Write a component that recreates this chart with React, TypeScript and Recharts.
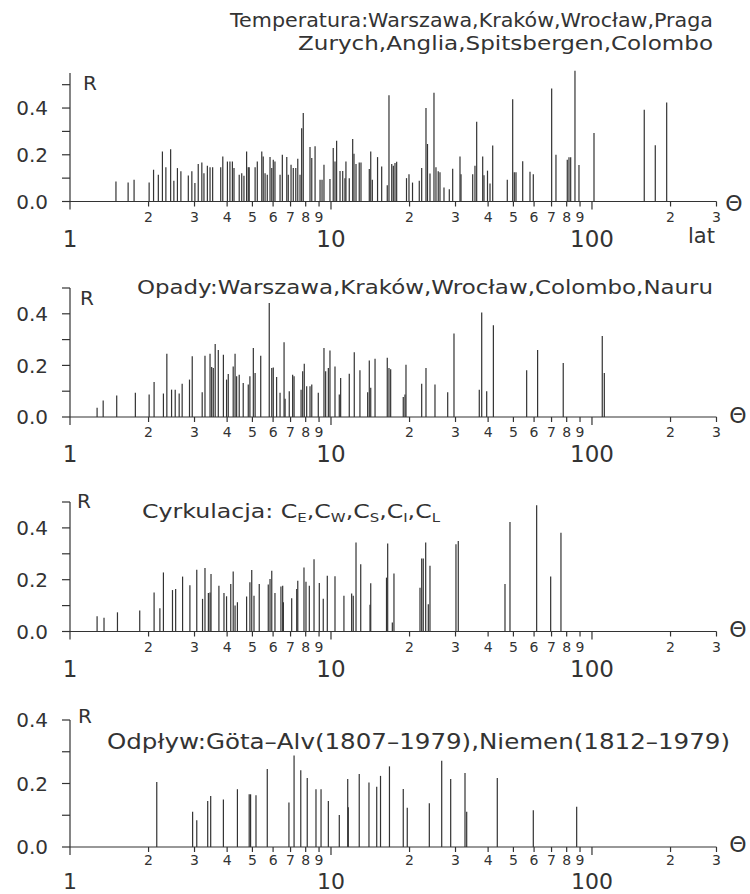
import React from "react";
import { ComposedChart, Scatter, XAxis, YAxis, ReferenceLine } from "recharts";

// [period in years, R]
const tempPeaks: [number, number][] = [
  [1.5, 0.086], [1.67, 0.081], [1.76, 0.093], [2.01, 0.081], [2.09, 0.136], [2.18, 0.114], [2.26, 0.214],
  [2.33, 0.147], [2.43, 0.224], [2.5, 0.089], [2.58, 0.143], [2.66, 0.129], [2.84, 0.111], [2.93, 0.129],
  [3.01, 0.079], [3.1, 0.16], [3.2, 0.167], [3.26, 0.121], [3.36, 0.153], [3.44, 0.147], [3.52, 0.147],
  [3.78, 0.147], [3.85, 0.193], [4.01, 0.171], [4.1, 0.171], [4.19, 0.171], [4.25, 0.143], [4.45, 0.114],
  [4.55, 0.121], [4.64, 0.11], [4.75, 0.214], [4.82, 0.147], [4.86, 0.147], [5.12, 0.147], [5.22, 0.171],
  [5.43, 0.214], [5.5, 0.193], [5.59, 0.121], [5.7, 0.114], [5.84, 0.19], [5.93, 0.143], [6.01, 0.179],
  [6.1, 0.171], [6.38, 0.114], [6.51, 0.2], [6.77, 0.19], [6.86, 0.114], [7.03, 0.157], [7.17, 0.143],
  [7.33, 0.143], [7.46, 0.183], [7.61, 0.114], [7.72, 0.314], [7.83, 0.379], [8.31, 0.233], [8.44, 0.186],
  [8.69, 0.236], [9.08, 0.093], [9.24, 0.093], [9.4, 0.157], [9.91, 0.096], [10.2, 0.229], [10.36, 0.171],
  [10.51, 0.26], [10.83, 0.131], [11.09, 0.131], [11.31, 0.1], [11.41, 0.171], [11.75, 0.1], [12.11, 0.267],
  [12.25, 0.204], [12.47, 0.161], [12.83, 0.167], [13.03, 0.167], [14.02, 0.139], [14.2, 0.214], [14.4, 0.093],
  [15.08, 0.19], [15.64, 0.15], [16.43, 0.07], [16.68, 0.455], [17.09, 0.16], [17.33, 0.153], [17.59, 0.165],
  [17.85, 0.17], [19.47, 0.1], [19.9, 0.117], [20.53, 0.081], [21.79, 0.089], [22.26, 0.143], [23.12, 0.4],
  [23.43, 0.246], [23.95, 0.12], [24.81, 0.465], [25.25, 0.147], [25.76, 0.13], [26.16, 0.125], [27.1, 0.06],
  [28.4, 0.052], [29.26, 0.14], [31.21, 0.193], [31.49, 0.117], [34.91, 0.117], [35.62, 0.153], [36.16, 0.341],
  [38.13, 0.193], [38.57, 0.112], [39.78, 0.132], [40.67, 0.077], [41.65, 0.24], [47.37, 0.093], [49.68, 0.438],
  [50.39, 0.125], [51.15, 0.125], [54.27, 0.172], [57.88, 0.127], [59.59, 0.117], [70.07, 0.484], [72.78, 0.2],
  [80.42, 0.179], [81.64, 0.189], [82.87, 0.189], [86.07, 0.56], [89.16, 0.156], [101.8, 0.293], [158.6, 0.393],
  [174.8, 0.241], [193.3, 0.424],
];

const rainPeaks: [number, number][] = [
  [1.27, 0.036], [1.34, 0.064], [1.51, 0.083], [1.78, 0.094], [2.01, 0.087], [2.1, 0.136], [2.28, 0.091],
  [2.35, 0.245], [2.45, 0.106], [2.53, 0.106], [2.62, 0.091], [2.69, 0.129], [2.87, 0.145], [2.94, 0.235],
  [3.21, 0.096], [3.29, 0.237], [3.44, 0.245], [3.49, 0.194], [3.54, 0.19], [3.6, 0.283], [3.7, 0.26],
  [3.87, 0.241], [3.98, 0.145], [4.04, 0.167], [4.22, 0.196], [4.29, 0.245], [4.35, 0.158], [4.45, 0.164],
  [4.61, 0.132], [4.82, 0.126], [4.89, 0.158], [5.04, 0.267], [5.12, 0.171], [5.38, 0.237], [5.8, 0.442],
  [5.93, 0.19], [6.01, 0.192], [6.19, 0.155], [6.38, 0.094], [6.61, 0.29], [6.67, 0.071], [6.92, 0.1],
  [7.13, 0.164], [7.22, 0.158], [7.68, 0.106], [7.79, 0.177], [7.9, 0.206], [8.07, 0.119], [8.31, 0.119],
  [8.44, 0.126], [8.94, 0.094], [9.4, 0.267], [9.54, 0.177], [9.77, 0.19], [9.91, 0.258], [10.36, 0.196],
  [10.76, 0.087], [10.89, 0.151], [11.75, 0.168], [12.28, 0.251], [12.91, 0.181], [13.82, 0.096], [14.02, 0.219],
  [14.2, 0.113], [14.75, 0.226], [16.43, 0.23], [16.68, 0.19], [16.93, 0.185], [18.92, 0.078], [19.21, 0.087],
  [19.38, 0.203], [22.26, 0.129], [23.12, 0.19], [25.03, 0.126], [28.0, 0.096], [29.6, 0.324], [37.0, 0.106],
  [37.8, 0.405], [39.5, 0.1], [41.9, 0.356], [56.2, 0.181], [61.9, 0.26], [77.6, 0.209], [109.5, 0.314],
  [111.5, 0.171],
];

const circPeaks: [number, number][] = [
  [1.27, 0.059], [1.35, 0.053], [1.52, 0.074], [1.85, 0.081], [2.1, 0.151], [2.21, 0.09], [2.28, 0.228],
  [2.47, 0.16], [2.54, 0.164], [2.7, 0.212], [2.88, 0.179], [3.06, 0.238], [3.22, 0.126], [3.29, 0.245],
  [3.39, 0.149], [3.44, 0.151], [3.47, 0.222], [3.72, 0.177], [3.89, 0.149], [3.98, 0.136], [4.13, 0.183],
  [4.22, 0.232], [4.29, 0.1], [4.38, 0.113], [4.75, 0.135], [4.89, 0.19], [4.97, 0.237], [5.07, 0.138],
  [5.31, 0.183], [5.75, 0.181], [5.84, 0.203], [5.93, 0.235], [6.1, 0.149], [6.43, 0.174], [6.53, 0.177],
  [6.57, 0.113], [7.07, 0.128], [7.39, 0.164], [7.46, 0.196], [7.88, 0.247], [8.02, 0.192], [8.26, 0.177],
  [8.61, 0.279], [9.02, 0.187], [9.34, 0.126], [9.68, 0.215], [10.36, 0.213], [11.21, 0.138], [12.0, 0.147],
  [12.17, 0.138], [12.47, 0.344], [13.0, 0.26], [14.11, 0.103], [14.2, 0.186], [16.32, 0.208], [16.49, 0.34],
  [17.18, 0.035], [17.43, 0.224], [21.93, 0.169], [22.26, 0.282], [22.57, 0.282], [23.06, 0.344], [23.6, 0.105],
  [23.95, 0.254], [30.12, 0.337], [30.74, 0.349], [46.42, 0.183], [48.51, 0.423], [61.38, 0.487], [69.46, 0.212],
  [76.06, 0.381],
];

const flowPeaks: [number, number][] = [
  [2.15, 0.205], [2.95, 0.111], [3.06, 0.084], [3.37, 0.145], [3.46, 0.161], [3.87, 0.15], [4.38, 0.182],
  [4.86, 0.166], [4.92, 0.166], [5.16, 0.163], [5.7, 0.246], [6.9, 0.14], [7.22, 0.288], [7.66, 0.242],
  [8.11, 0.217], [8.76, 0.182], [9.16, 0.182], [9.77, 0.145], [10.76, 0.101], [11.59, 0.214], [11.65, 0.125],
  [12.83, 0.23], [13.98, 0.203], [14.97, 0.19], [15.48, 0.224], [16.75, 0.254], [18.92, 0.183], [19.6, 0.124],
  [23.81, 0.138], [26.56, 0.272], [28.75, 0.214], [32.62, 0.233], [33.11, 0.111], [43.37, 0.217], [59.59, 0.116],
  [87.37, 0.127],
];

const xTicks = [1, 2, 3, 4, 5, 6, 7, 8, 9, 10, 20, 30, 40, 50, 60, 70, 80, 90, 100, 200, 300];
const yTicksFull = [0, 0.1, 0.2, 0.3, 0.4, 0.5];
const yTicksShort = [0, 0.1, 0.2, 0.3, 0.4];

const FONT = "'DejaVu Sans', Verdana, sans-serif";
const INK = "#333";
const PAD_TOP = 16;

function XTick(props: any) {
  const { x, y, payload, majorOffset, minorOffset, majorSize } = props;
  const v = payload.value;
  const exp = Math.floor(Math.log10(v) + 1e-9);
  const digit = Math.round(v / Math.pow(10, exp));
  const major = digit === 1;
  return (
    <g>
      <line x1={x} x2={x} y1={y} y2={y + (major ? 8 : 5)} stroke={INK} strokeWidth={1.2} />
      {major ? (
        <text x={x} y={y + majorOffset} textAnchor="middle" fontSize={majorSize} fill={INK} fontFamily={FONT}>
          {v}
        </text>
      ) : (
        <text x={x} y={y + minorOffset} textAnchor="middle" fontSize={14} fill={INK} fontFamily={FONT}>
          {digit}
        </text>
      )}
    </g>
  );
}

const fmtY = (v: number) => (Math.round(v * 10) % 2 === 0 ? v.toFixed(1) : "");

interface PanelProps {
  peaks: [number, number][];
  top: number;
  plotH: number;
  yMax: number;
  yTicks: number[];
  majorOffset?: number;
  minorOffset?: number;
  majorSize?: number;
}

function Panel({ peaks, top, plotH, yMax, yTicks, majorOffset = 45, minorOffset = 20, majorSize = 23 }: PanelProps) {
  const pts = peaks.map(([p, r]) => ({ p, r }));
  const h = PAD_TOP + plotH + 54;
  return (
    <div style={{ position: "absolute", left: 0, top: top - PAD_TOP }}>
      <ComposedChart width={750} height={h} data={pts} margin={{ top: PAD_TOP, right: 33.5, bottom: 0, left: 8 }}>
        <XAxis
          dataKey="p"
          type="number"
          scale="log"
          domain={[1, 300]}
          allowDataOverflow
          ticks={xTicks}
          interval={0}
          height={54}
          tickSize={0}
          tickMargin={0}
          tick={<XTick majorOffset={majorOffset} minorOffset={minorOffset} majorSize={majorSize} />}
          stroke={INK}
          strokeWidth={1.2}
        />
        <YAxis
          type="number"
          domain={[0, yMax]}
          allowDataOverflow
          ticks={yTicks}
          interval={0}
          width={62}
          tickSize={8}
          tickMargin={14}
          tickFormatter={fmtY}
          tick={{ fontSize: 20, fill: INK, fontFamily: FONT }}
          stroke={INK}
          strokeWidth={1.2}
        />
        <Scatter dataKey="r" shape={() => <g />} isAnimationActive={false} />
        {pts.map((d, i) => (
          <ReferenceLine
            key={i}
            segment={[{ x: d.p, y: 0 }, { x: d.p, y: d.r }]}
            stroke={INK}
            strokeWidth={1.2}
            ifOverflow="visible"
          />
        ))}
      </ComposedChart>
    </div>
  );
}

export default function App() {
  const txt = { fill: INK, fontFamily: FONT } as const;
  return (
    <div style={{ position: "absolute", left: 0, top: 0, width: 750, height: 894, overflow: "hidden", background: "#fff" }}>
      <Panel peaks={tempPeaks} top={73} plotH={128.5} yMax={0.55} yTicks={yTicksFull} />
      <Panel peaks={rainPeaks} top={287.5} plotH={129} yMax={0.5} yTicks={yTicksFull} />
      <Panel peaks={circPeaks} top={502} plotH={129.5} yMax={0.5} yTicks={yTicksFull} />
      <Panel
        peaks={flowPeaks}
        top={720}
        plotH={127}
        yMax={0.4}
        yTicks={yTicksShort}
        majorOffset={42}
        minorOffset={18}
        majorSize={22}
      />
      <svg width={750} height={894} style={{ position: "absolute", left: 0, top: 0, pointerEvents: "none" }}>
        <text x={230} y={27} fontSize={19} textLength={483} lengthAdjust="spacingAndGlyphs" {...txt}>
          Temperatura:Warszawa,Kraków,Wrocław,Praga
        </text>
        <text x={298} y={50} fontSize={19} textLength={415} lengthAdjust="spacingAndGlyphs" {...txt}>
          Zurych,Anglia,Spitsbergen,Colombo
        </text>
        <text x={137} y={294} fontSize={19} textLength={576} lengthAdjust="spacingAndGlyphs" {...txt}>
          Opady:Warszawa,Kraków,Wrocław,Colombo,Nauru
        </text>
        <text x={142} y={518} fontSize={19} textLength={298} lengthAdjust="spacingAndGlyphs" {...txt}>
          Cyrkulacja:{"  "}C<tspan dy={4} fontSize={12}>E</tspan>
          <tspan dy={-4}>,C</tspan><tspan dy={4} fontSize={12}>W</tspan>
          <tspan dy={-4}>,C</tspan><tspan dy={4} fontSize={12}>S</tspan>
          <tspan dy={-4}>,C</tspan><tspan dy={4} fontSize={12}>I</tspan>
          <tspan dy={-4}>,C</tspan><tspan dy={4} fontSize={12}>L</tspan>
        </text>
        <text x={107} y={749} fontSize={21} textLength={623} lengthAdjust="spacingAndGlyphs" {...txt}>
          Odpływ:Göta–Alv(1807–1979),Niemen(1812–1979)
        </text>
        <text x={83} y={90} fontSize={20} {...txt}>R</text>
        <text x={80} y={305} fontSize={20} {...txt}>R</text>
        <text x={77} y={508} fontSize={20} {...txt}>R</text>
        <text x={78} y={723} fontSize={20} {...txt}>R</text>
        <text x={688} y={243} fontSize={21} {...txt}>lat</text>
        <text x={734} y={211} fontSize={22} textAnchor="middle" {...txt}>Θ</text>
        <text x={738} y={423} fontSize={22} textAnchor="middle" {...txt}>Θ</text>
        <text x={738} y={637} fontSize={22} textAnchor="middle" {...txt}>Θ</text>
        <text x={738} y={852} fontSize={22} textAnchor="middle" {...txt}>Θ</text>
      </svg>
    </div>
  );
}
